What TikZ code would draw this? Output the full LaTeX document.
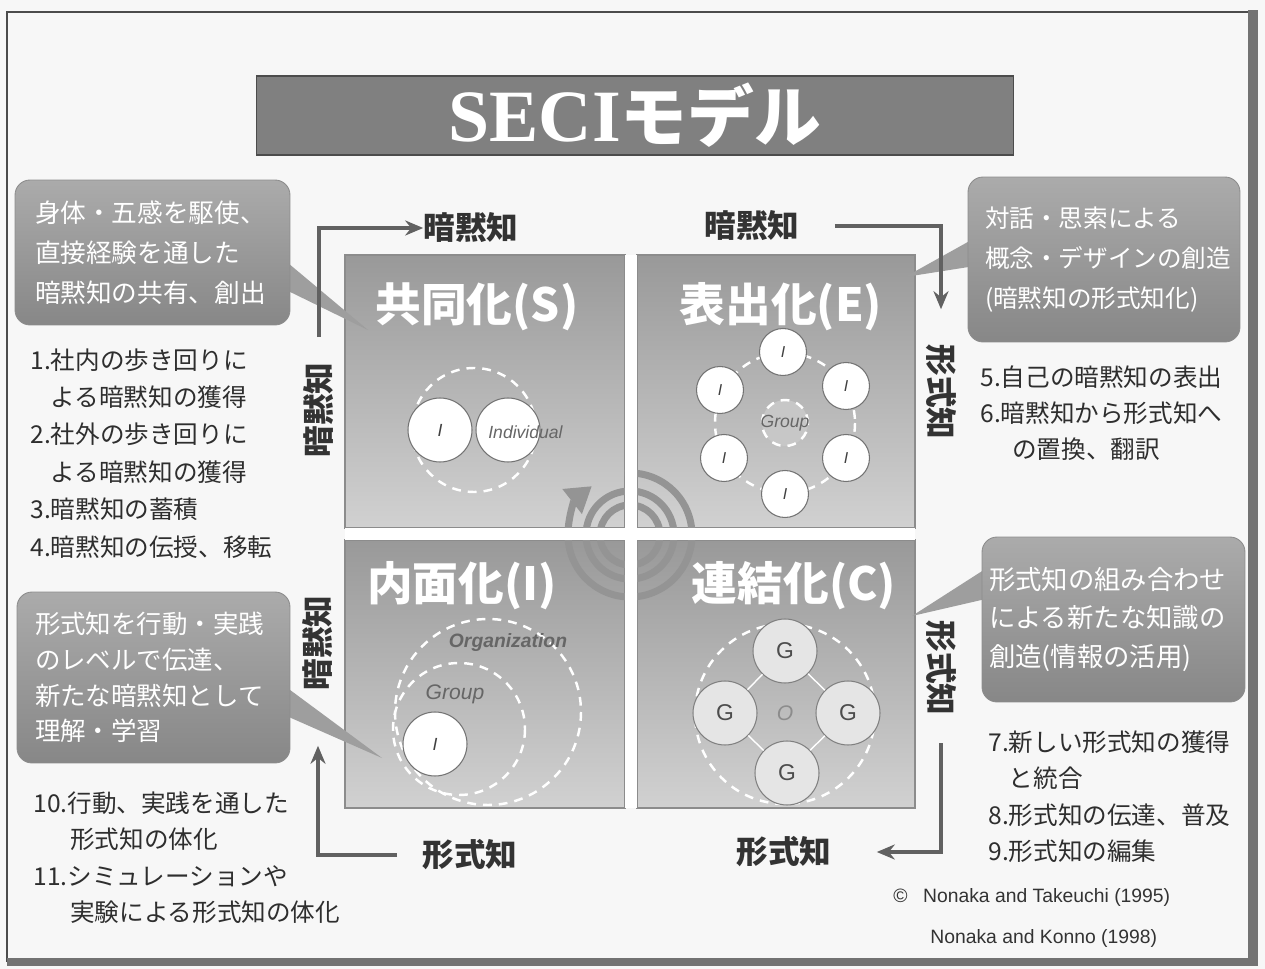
\documentclass[tikz,border=0pt]{standalone}
\usepackage{fontspec}
\setmainfont{Noto Sans CJK JP}
\newfontfamily\serifbf{Liberation Serif}
\newfontfamily\lsans{Liberation Sans}
\usetikzlibrary{arrows.meta,calc}
\newcommand{\fsz}[2]{\fontsize{#1}{#2}\selectfont}
\tikzset{
  quad/.style={draw=black!45, line width=0.6pt, top color=black!40, bottom color=black!18},
  qtitle/.style={text=white, font=\fsz{26pt}{30pt}\bfseries, inner sep=0pt},
  titlebox/.style={fill=black!50, draw=black!70, line width=0.6pt, minimum width=15.16cm, minimum height=1.58cm, inner sep=0pt, text=white},
  callout/.style={rounded corners=0.3cm, draw=black!45, line width=0.5pt, top color=black!33, bottom color=black!47, text=white, align=left, inner ysep=0pt},
  wedge/.style={fill=black!38, draw=none},
  lab/.style={font=\fsz{18pt}{20pt}\bfseries, text=black!80, inner sep=0pt},
  listtxt/.style={text=black!82, align=left, inner sep=0pt, anchor=north west},
  flow/.style={draw=black!62, line width=1.8pt, -{Stealth[length=0.36cm,width=0.3cm]}},
  pc/.style={circle, fill=white, draw=black!55, line width=0.6pt, minimum size=1.28cm, inner sep=0pt, font=\lsans\itshape\fsz{10pt}{10pt}, text=black!75},
  sc/.style={circle, fill=white, draw=black!55, line width=0.6pt, minimum size=0.94cm, inner sep=0pt, font=\lsans\itshape\fsz{9pt}{9pt}, text=black!75},
  gc/.style={circle, fill=black!10, draw=black!50, line width=0.6pt, minimum size=1.28cm, inner sep=0pt, font=\lsans\fsz{13pt}{13pt}, text=black!70},
  dring/.style={draw=white, line width=1.4pt, dash pattern=on 5pt off 4pt},
  spir/.style={draw=black!42, line width=4pt},
  small/.style={font=\lsans\itshape\fsz{10pt}{10pt}, text=black!60, inner sep=0pt},
  credit/.style={font=\lsans\fsz{11pt}{12pt}, text=black!80, inner sep=0pt, anchor=west}
}
\begin{document}
\begin{tikzpicture}[x=0.02cm,y=-0.02cm]
\useasboundingbox (0,0) rectangle (1265,969);
\fill[black!3] (0,0) rectangle (1265,969);
% slide frame
\draw[black!70, line width=0.8pt] (1250,12) -- (7,12) -- (7,962);
\fill[black!55] (1248,10) rectangle (1258,966);
\fill[black!55] (7,958) rectangle (1258,966);

% title
\node[titlebox] (title) at (635,115.5) {{\serifbf\bfseries\fsz{42pt}{42pt}SECI}{\bfseries\fsz{38pt}{38pt}モデル}};

% quadrants
\path[quad] (345,255) rectangle (625,528);
\path[quad] (637,255) rectangle (915,528);
\path[quad] (345,540) rectangle (625,808);
\path[quad] (637,540) rectangle (915,808);

% central spiral
\draw[spir] (630,535) circle (30);
\draw[spir] (630,535) circle (44);
\draw[spir, -{Triangle[length=0.5cm,width=0.6cm]}] ($(630,535)+(-95:62)$) arc[start angle=-95, end angle=232, radius=62];
% white gaps between quadrants
\fill[white] (625,255) rectangle (637,808);
\fill[white] (345,528) rectangle (915,540);

% quadrant titles
\node[qtitle] (qs) at (477,307) {共同化(S)};
\node[qtitle] (qe) at (781,307) {表出化(E)};
\node[qtitle] (qi) at (462,586) {内面化(I)};
\node[qtitle] (qc) at (794,586) {連結化(C)};

% Socialization
\draw[dring] (474,430) circle (62);
\node[pc] (s1) at (440,430) {I};
\node[pc] (s2) at (508,430) {};
\node[small, anchor=west] (sind) at (488,432) {Individual};

% Externalization
\draw[dring] (785,423) circle (70);
\node[circle, fill=black!22, dring, minimum size=0.92cm, inner sep=0pt] (eg) at (785,423) {};
\node[small] (egt) at (785,423) {Group};
\node[sc] (e1) at (783,352) {I};
\node[sc] (e2) at (720,390) {I};
\node[sc] (e3) at (846,386) {I};
\node[sc] (e4) at (724,458) {I};
\node[sc] (e5) at (846,458) {I};
\node[sc] (e6) at (785,494) {I};

% Internalization
\draw[dring] (488,712) circle (93);
\draw[dring] (459,729) circle (66);
\node[small, font=\lsans\itshape\bfseries\fsz{11pt}{11pt}] (iorg) at (508,643) {Organization};
\node[small, font=\lsans\itshape\fsz{12pt}{12pt}] (igr) at (455,694) {Group};
\node[pc] (i1) at (435,744) {I};

% Combination
\draw[dring] (785,714) circle (90);
\node[small, font=\lsans\itshape\fsz{12pt}{12pt}, text=black!45] (co) at (785,713) {O};
\node[gc] (g1) at (785,651) {G};
\node[gc] (g2) at (725,713) {G};
\node[gc] (g3) at (848,713) {G};
\node[gc] (g4) at (787,773) {G};
\draw[white, line width=0.8pt] (g1) -- (g3) (g3) -- (g4) (g4) -- (g2) (g2) -- (g1);

% callout pointers
\fill[wedge] (282,258) -- (368,330) -- (282,288) -- cycle;
\fill[wedge] (975,238) -- (905,277) -- (975,266) -- cycle;
\fill[wedge] (282,684) -- (382,758) -- (282,714) -- cycle;
\fill[wedge] (990,566) -- (912,616) -- (990,598) -- cycle;

% callouts
\node[callout, inner xsep=0.4cm, text width=4.7cm, minimum height=2.9cm, font=\fsz{14.6pt}{22.7pt}] (c1) at (152.5,252.5)
  {身体・五感を駆使、\\直接経験を通した\\暗黙知の共有、創出};
\node[callout, inner xsep=0.34cm, text width=4.76cm, minimum height=3.3cm, font=\fsz{14pt}{22.7pt}] (c2) at (1104,259.5)
  {対話・思索による\\概念・デザインの創造\\(暗黙知の形式知化)};
\node[callout, inner xsep=0.36cm, text width=4.74cm, minimum height=3.42cm, font=\fsz{14.5pt}{20.4pt}] (c3) at (153.5,677.5)
  {形式知を行動・実践\\のレベルで伝達、\\新たな暗黙知として\\理解・学習};
\node[callout, inner xsep=0.14cm, text width=4.98cm, minimum height=3.3cm, font=\fsz{15pt}{21.8pt}] (c4) at (1113.5,619.5)
  {形式知の組み合わせ\\による新たな知識の\\創造(情報の活用)};

% axis labels
\node[lab] (tl) at (471,228) {暗黙知};
\node[lab] (tr) at (752,226) {暗黙知};
\node[lab] (bl) at (470,855) {形式知};
\node[lab] (br) at (784,852) {形式知};
\node[lab, rotate=90] (lup) at (319,410) {暗黙知};
\node[lab, rotate=90] (llo) at (318,643) {暗黙知};
\node[lab, rotate=-90] (rup) at (941,392) {形式知};
\node[lab, rotate=-90] (rlo) at (941,668) {形式知};

% flow arrows
\draw[flow] ([yshift=0.5cm]lup.east) |- (tl.west);
\draw[flow] ([xshift=0.7cm]tr.east) -| ([yshift=0.7cm]rup.west);
\draw[flow] ([yshift=-0.55cm]rlo.east) |- ([xshift=0.9cm]br.east);
\draw[flow] ([xshift=-0.5cm]bl.west) -| ([yshift=-1.1cm]llo.west);

% lists
\node[listtxt, font=\fsz{14pt}{21.3pt}] (l1) at (30,348)
  {1.社内の歩き回りに\\\phantom{1.}よる暗黙知の獲得\\2.社外の歩き回りに\\\phantom{2.}よる暗黙知の獲得\\3.暗黙知の蓄積\\4.暗黙知の伝授、移転};
\node[listtxt, font=\fsz{14pt}{20.7pt}] (l2) at (980,365)
  {5.自己の暗黙知の表出\\6.暗黙知から形式知へ\\\hspace*{1.3em}の置換、翻訳};
\node[listtxt, font=\fsz{14pt}{20.8pt}] (l4) at (988,730)
  {7.新しい形式知の獲得\\\phantom{7.}と統合\\8.形式知の伝達、普及\\9.形式知の編集};
\node[listtxt, font=\fsz{14pt}{20.8pt}] (l3) at (33,791)
  {10.行動、実践を通した\\\hspace*{1.5em}形式知の体化\\11.シミュレーションや\\\hspace*{1.5em}実験による形式知の体化};

% credits
\node[credit] (cr1) at (893,897) {©\hspace{0.8em}Nonaka and Takeuchi (1995)};
\node[credit] (cr2) at (930,938) {Nonaka and Konno (1998)};
\end{tikzpicture}
\end{document}
